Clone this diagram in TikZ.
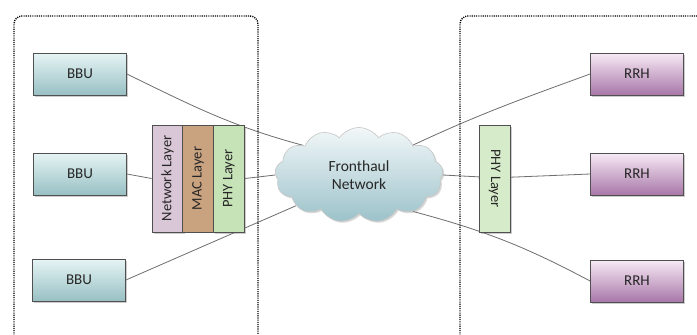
\documentclass[tikz,border=0pt]{standalone}
\usepackage{fontspec}
\setmainfont{Carlito}
\usetikzlibrary{shapes.symbols,shadows,positioning}
\pgfdeclarelayer{back}
\pgfdeclarelayer{bg}
\pgfsetlayers{back,bg,main}
\definecolor{bbutop}{HTML}{E6F4F4}
\definecolor{bbubot}{HTML}{98C0C4}
\definecolor{rrhtop}{HTML}{F7EAF5}
\definecolor{rrhbot}{HTML}{A877A9}
\definecolor{netc}{HTML}{D9C6D6}
\definecolor{macc}{HTML}{C9A380}
\definecolor{phyc}{HTML}{C6E3B8}
\definecolor{phyr}{HTML}{D6EBC9}
\definecolor{cltop}{HTML}{F2F7F8}
\definecolor{clbot}{HTML}{9CC2CA}
\definecolor{edgec}{HTML}{505050}
\definecolor{linec}{HTML}{6E6E6E}
\definecolor{txt}{HTML}{262626}
\tikzset{
  x=1pt, y=-1pt,
  shadowed/.style={drop shadow={shadow xshift=1.5pt, shadow yshift=-1.5pt, opacity=0.4}},
  unitbox/.style={draw=edgec, line width=0.8pt, minimum width=93pt, minimum height=42pt,
    inner sep=0pt, font=\fontsize{15}{15}\selectfont, text=txt, shadowed},
  bbu/.style={unitbox, top color=bbutop, bottom color=bbubot},
  rrh/.style={unitbox, top color=rrhtop, bottom color=rrhbot},
  layerbox/.style={draw=edgec, line width=0.8pt, minimum width=107pt, minimum height=31pt,
    inner sep=0pt, font=\fontsize{14.5}{14.5}\selectfont, text=txt},
  frame/.style={line width=1.4pt, black, dash pattern=on 1.1pt off 1.1pt, rounded corners=8pt},
  conn/.style={draw=linec, line width=0.8pt},
}
\begin{document}
\begin{tikzpicture}
\useasboundingbox (0,0) rectangle (697,335);
\begin{pgfonlayer}{back}
\fill[white] (0,0) rectangle (697,335);
\end{pgfonlayer}

% frames
\draw[frame] (14,340) -- (14,16) -- (258,16) -- (258,340);
\draw[frame] (460,340) -- (460,16) -- (705,16);

% BBUs
\node[bbu] (bbu1) at (80,74) {BBU};
\node[bbu] (bbu2) at (80,174) {BBU};
\node[bbu] (bbu3) at (79,280) {BBU};

% RRHs
\node[rrh] (rrh1) at (637,74) {RRH};
\node[rrh] (rrh2) at (637,174) {RRH};
\node[rrh] (rrh3) at (637,281) {RRH};

% layer stack
\node[layerbox, fill=netc, rotate=90, shadowed] (net) at (167.5,178.5) {Network Layer};
\node[layerbox, fill=macc, rotate=90] (mac) at (198,178.5) {MAC Layer};
\node[layerbox, fill=phyc, rotate=90, shadowed] (phy) at (229,178.5) {PHY Layer};

% remote PHY
\node[layerbox, fill=phyr, rotate=-90, shadowed] (phy2) at (494.5,178.5) {PHY Layer};

% cloud
\node[cloud, cloud puffs=13, cloud puff arc=110, aspect=1.75, minimum width=168pt, minimum height=95pt,
  inner sep=0pt, draw=gray!45, line width=0.6pt, top color=cltop, bottom color=clbot,
  drop shadow={shadow xshift=1.5pt, shadow yshift=-1.5pt, opacity=0.3},
  align=center, font=\fontsize{15.5}{18}\selectfont, text=txt] (cloud) at (359,175) {Fronthaul\\Network};

% connectors
\begin{pgfonlayer}{bg}
\draw[conn] (bbu1.east) to[out=-26, in=165] (cloud.152);
\draw[conn] (bbu2.east) -- (net.north);
\draw[conn] (phy.south) -- (cloud.west);
\draw[conn] (bbu3.east) -- (cloud.206);
\draw[conn] (cloud.29) to[out=25, in=200] (rrh1.west);
\draw[conn] (cloud.east) -- (phy2.north);
\draw[conn] (phy2.south) -- (rrh2.west);
\draw[conn] (cloud.-34) to[out=-15, in=152] (rrh3.west);
\end{pgfonlayer}
\end{tikzpicture}
\end{document}
